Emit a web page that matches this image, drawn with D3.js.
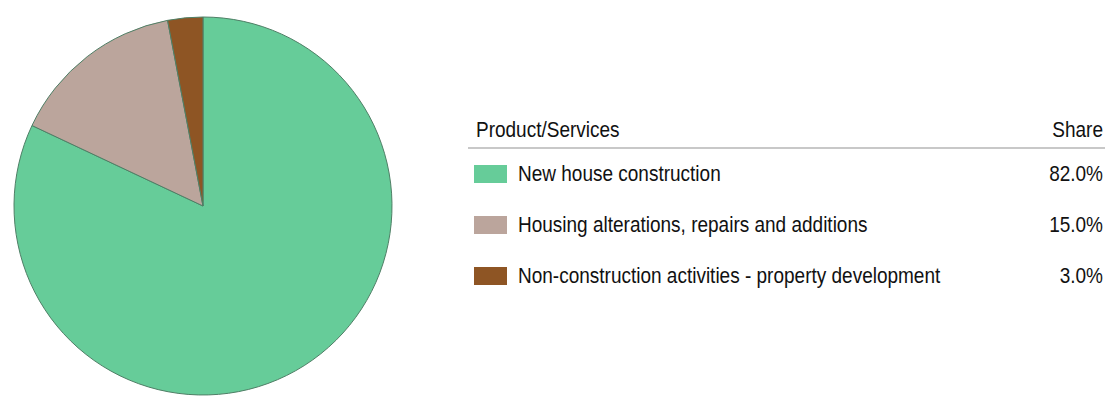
<!DOCTYPE html>
<html>
<head>
<meta charset="utf-8">
<script src="https://cdn.jsdelivr.net/npm/d3@7/dist/d3.min.js"></script>
<style>
  html, body { margin: 0; padding: 0; background: #fff; }
  svg { display: block; }
  text { font-family: "Liberation Sans", Arial, sans-serif; fill: #111; }
</style>
</head>
<body>
<svg id="chart" width="1113" height="397"></svg>
<script>
// Revenue share by product / service segment
const categories = [
  "New house construction",
  "Housing alterations, repairs and additions",
  "Non-construction activities - property development"
];
const shares = [82.0, 15.0, 3.0];
const colors = ["#66cc99", "#bba59c", "#8e5524"];
const headers = ["Product/Services", "Share"];

const svg = d3.select("#chart");

// ---- pie ----
const cx = 203, cy = 206, radius = 189;
const pie = d3.pie().sort(null).value(d => d.value).startAngle(0).endAngle(2 * Math.PI);
const arc = d3.arc().innerRadius(0).outerRadius(radius);
const data = categories.map((c, i) => ({ name: c, value: shares[i], color: colors[i] }));

svg.append("g")
  .attr("transform", `translate(${cx},${cy})`)
  .selectAll("path")
  .data(pie(data))
  .join("path")
  .attr("d", arc)
  .attr("fill", d => d.data.color)
  .attr("stroke", "#4f7f66")
  .attr("stroke-width", 1);

// ---- legend table ----
const left = 468, right = 1105;
const legend = svg.append("g");
const fontSize = 19;
const stretch = 1.13; // slightly tall lettering

// text placed at (x, baseline y) with a small vertical stretch
function label(sel, x, y) {
  return sel.append("text")
    .attr("transform", `translate(${x},${y}) scale(1,${stretch})`)
    .attr("font-size", fontSize);
}

label(legend, 476, 137).text(headers[0]);
label(legend, 1103, 137).attr("text-anchor", "end").text(headers[1]);

legend.append("line")
  .attr("x1", left).attr("x2", right)
  .attr("y1", 148).attr("y2", 148)
  .attr("stroke", "#c8c8c8").attr("stroke-width", 2);

const rowY = d3.scaleBand().domain(categories).range([155, 308]);

const rows = legend.selectAll("g.row")
  .data(data)
  .join("g")
  .attr("class", "row")
  .attr("transform", d => `translate(0,${rowY(d.name)})`);

rows.append("rect")
  .attr("x", 474).attr("y", 10)
  .attr("width", 33).attr("height", 18)
  .attr("fill", d => d.color);

rows.each(function (d) {
  const g = d3.select(this);
  label(g, 518, 26).text(d.name);
  label(g, 1103, 26)
    .attr("text-anchor", "end")
    .attr("fill", "#333")
    .text(d3.format(".1f")(d.value) + "%");
});
</script>
</body>
</html>
